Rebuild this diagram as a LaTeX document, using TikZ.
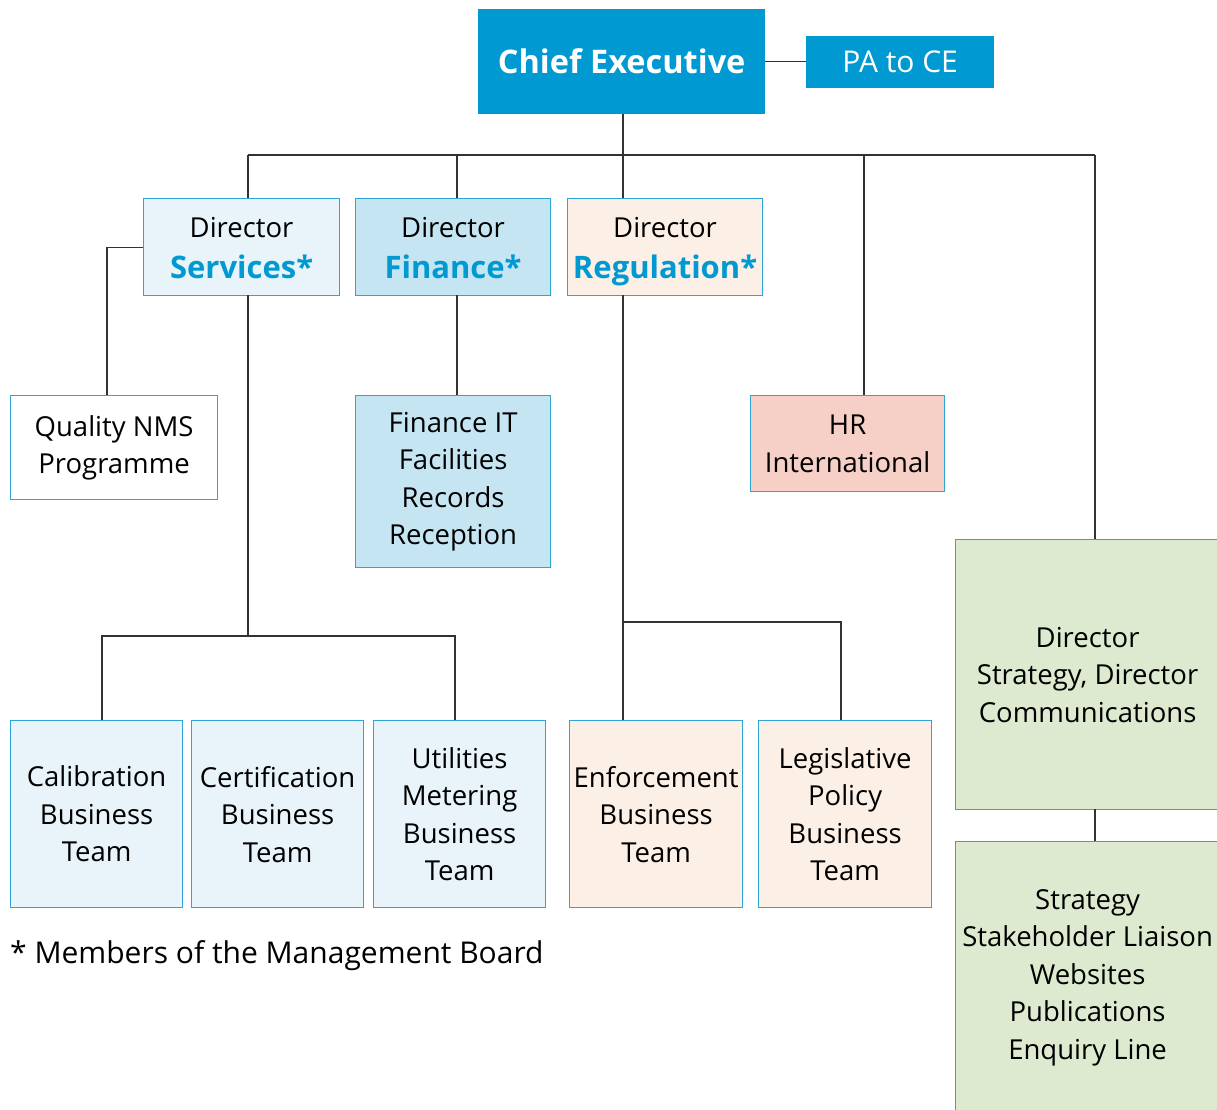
\documentclass[tikz,border=0pt]{standalone}
\usepackage{fontspec}
\setmainfont{Open Sans}
\definecolor{nmsblue}{RGB}{0,153,210}
\definecolor{boxedge}{RGB}{45,165,215}
\definecolor{paleblue}{RGB}{232,244,250}
\definecolor{midblue}{RGB}{198,229,242}
\definecolor{palepeach}{RGB}{252,239,230}
\definecolor{hrpink}{RGB}{246,207,198}
\definecolor{palegreen}{RGB}{221,234,207}
\definecolor{linkgray}{RGB}{50,50,50}
\tikzset{
  unit/.style={draw=boxedge, line width=1.2pt, anchor=north west, inner sep=0pt,
    align=center, font=\fontsize{27.5}{37.5}\selectfont},
  topbox/.style={fill=nmsblue, draw=none, anchor=north west, inner sep=0pt,
    align=center, text=white},
  link/.style={draw=linkgray, line width=1.2pt},
}
\newcommand{\dirtitle}[1]{{\fontsize{27.5}{30}\selectfont\rule{0pt}{29pt}Director}\\[3pt]{\bfseries\color{nmsblue}\fontsize{31}{36}\selectfont #1\vphantom{g}}}
\begin{document}
\begin{tikzpicture}[x=1pt,y=-1pt]
\useasboundingbox (0,0) rectangle (1217,1109);
\clip (0,0) rectangle (1217,1109);

% top level
\node[topbox, minimum width=287pt, minimum height=105pt, font=\bfseries\fontsize{32.5}{36}\selectfont] (ce) at (478,9) {Chief Executive};
\node[topbox, minimum width=188pt, minimum height=52pt, font=\fontsize{30}{34}\selectfont] (pa) at (806,36) {PA to CE};

% directors
\node[unit, fill=paleblue, minimum width=196pt, minimum height=97pt] (svc) at (143,198) {\dirtitle{Services*}};
\node[unit, fill=midblue, minimum width=195pt, minimum height=97pt] (fin) at (355,198) {\dirtitle{Finance*}};
\node[unit, fill=palepeach, minimum width=195pt, minimum height=97pt] (reg) at (567,198) {\dirtitle{Regulation*}};

% second level
\node[unit, fill=white, minimum width=207pt, minimum height=104pt] (qual) at (10,395) {Quality NMS\\Programme};
\node[unit, fill=midblue, minimum width=195pt, minimum height=172pt] (finit) at (355,395) {Finance IT\\Facilities\\Records\\Reception};
\node[unit, fill=hrpink, minimum width=194pt, minimum height=96pt] (hr) at (750,395) {HR\\International};
\node[unit, fill=palegreen, minimum width=264pt, minimum height=270pt] (dstrat) at (955,539) {Director\\Strategy, Director\\Communications};
\node[unit, fill=palegreen, minimum width=264pt, minimum height=272pt] (strat) at (955,841) {Strategy\\Stakeholder Liaison\\Websites\\Publications\\Enquiry Line};

% business teams
\node[unit, fill=paleblue, minimum width=172pt, minimum height=187pt] (cal) at (10,720) {Calibration\\Business\\Team};
\node[unit, fill=paleblue, minimum width=172pt, minimum height=187pt] (cert) at (191,720) {Certification\\Business\\Team};
\node[unit, fill=paleblue, minimum width=172pt, minimum height=187pt] (util) at (373,720) {Utilities\\Metering\\Business\\Team};
\node[unit, fill=palepeach, minimum width=173pt, minimum height=187pt] (enf) at (569,720) {Enforcement\\Business\\Team};
\node[unit, fill=palepeach, minimum width=173pt, minimum height=187pt] (leg) at (758,720) {Legislative\\Policy\\Business\\Team};

% footnote
\node[anchor=base west, inner sep=0pt, font=\fontsize{30}{34}\selectfont] (note) at (10,963) {* Members of the Management Board};

% connectors
\coordinate (bar) at (623,155);
\draw[link] (ce.east) -- (ce.east -| pa.west);
\draw[link] (ce.south -| bar) -- (bar);
\draw[link] (248,155) -- (1095,155);
\draw[link] (248,155) -- (248,198);
\draw[link] (457,155) -- (457,198);
\draw[link] (bar) -- (reg.north -| bar);
\draw[link] (864,155) -- (864,395);
\draw[link] (1095,155) -- (1095,539);
\draw[link] (svc.west) -| (107,395);
\draw[link] (457,295) -- (457,395);
\draw[link] (248,295) -- (248,636);
\draw[link] (102,720) |- (455,636) -- (455,720);
\draw[link] (623,295) -- (623,720);
\draw[link] (623,622) -| (841,720);
\draw[link] (1095,809) -- (1095,841);
\end{tikzpicture}
\end{document}
